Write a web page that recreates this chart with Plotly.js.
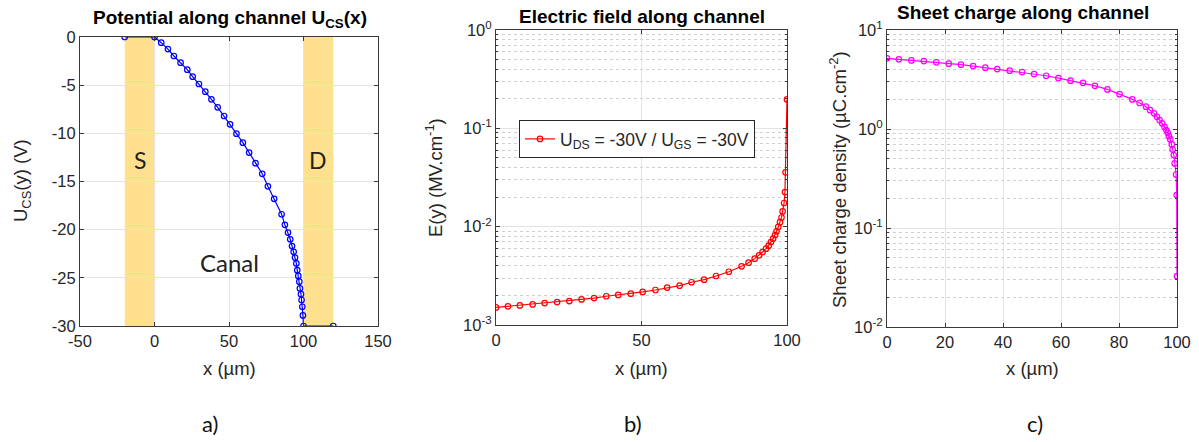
<!DOCTYPE html>
<html>
<head>
<meta charset="utf-8">
<script src="https://cdn.plot.ly/plotly-3.0.1.min.js"></script>
<style>html,body{margin:0;padding:0;background:#fff;}#chart{width:1199px;height:442px;}</style>
</head>
<body>
<div id="chart"></div>
<script>
// ---- Panel a: potential along channel ----
var xa = [-20, 0, 4.5, 9.0, 13.0, 17.5, 22.0, 25.6, 29.8, 34.1, 38.2, 42.4, 46.7, 50.7, 55.0, 59.3, 63.5, 67.8, 72.3, 76.1, 80.3, 85.3, 87.5, 89.6, 91.1, 92.3, 93.4, 94.3, 95.2, 95.8, 96.5, 97.2, 97.6, 98.3, 98.7, 99.2, 99.6, 100, 120];
var ua = [0, 0, -0.59, -1.25, -1.97, -2.67, -3.39, -4.12, -4.88, -5.68, -6.47, -7.3, -8.2, -9.07, -10.04, -10.97, -12.0, -13.1, -14.2, -15.5, -16.8, -18.4, -19.5, -20.3, -21.0, -21.7, -22.3, -22.9, -23.5, -24.2, -24.8, -25.4, -26.1, -26.7, -27.3, -28.0, -28.9, -30, -30];
var sourceRegion = [-20, 0];
var drainRegion = [100, 120];
var regionLabels = ["S", "D", "Canal"];
var regionLabelX = [-10, 110, 50];
var regionLabelY = [-12.8, -12.8, -23.4];
var tickValsAx = [-50, 0, 50, 100, 150];
var tickTextAx = ["-50", "0", "50", "100", "150"];
var tickValsAy = [-30, -25, -20, -15, -10, -5, 0];
var tickTextAy = ["-30", "-25", "-20", "-15", "-10", "-5", "0"];

// ---- Panel b: electric field along channel ----
var xb = [0, 4.1, 8.2, 12.6, 16.7, 21.0, 25.2, 29.4, 33.7, 37.9, 42.0, 46.3, 50.4, 54.8, 58.8, 63.1, 67.2, 71.5, 75.6, 80.0, 84.4, 86.8, 88.9, 90.4, 91.6, 92.8, 93.7, 94.5, 95.2, 95.9, 96.4, 97.0, 97.6, 98.1, 98.5, 99.0, 99.3, 99.5, 100];
var eb = [1.51e-3, 1.55e-3, 1.58e-3, 1.62e-3, 1.67e-3, 1.71e-3, 1.75e-3, 1.82e-3, 1.88e-3, 1.96e-3, 2.02e-3, 2.08e-3, 2.17e-3, 2.27e-3, 2.40e-3, 2.51e-3, 2.72e-3, 2.89e-3, 3.15e-3, 3.48e-3, 3.95e-3, 4.30e-3, 4.73e-3, 5.11e-3, 5.52e-3, 5.97e-3, 6.41e-3, 6.98e-3, 7.55e-3, 8.22e-3, 8.97e-3, 9.93e-3, 1.11e-2, 1.24e-2, 1.43e-2, 1.74e-2, 2.25e-2, 3.57e-2, 0.197];
var legendB = "U<sub>DS</sub> = -30V / U<sub>GS</sub> = -30V";

// ---- Panel c: sheet charge along channel ----
var xc = [0, 4.1, 8.4, 12.7, 17.0, 21.3, 25.5, 29.7, 33.9, 38.0, 42.3, 46.6, 50.7, 54.9, 59.1, 63.3, 67.6, 71.7, 76.0, 80.2, 84.6, 87.1, 89.3, 90.7, 92.1, 93.1, 94.0, 94.9, 95.7, 96.3, 96.8, 97.2, 97.7, 98.2, 98.5, 98.9, 99.2, 99.7, 99.9, 100];
var qc = [5.17, 5.05, 4.93, 4.85, 4.71, 4.57, 4.46, 4.32, 4.16, 4.03, 3.88, 3.76, 3.59, 3.45, 3.27, 3.08, 2.93, 2.73, 2.51, 2.25, 1.99, 1.83, 1.68, 1.55, 1.44, 1.33, 1.23, 1.14, 1.05, 0.975, 0.916, 0.847, 0.784, 0.698, 0.621, 0.545, 0.449, 0.347, 0.215, 0.0326];

// ---- tick labels ----
var tickValsB = [0.001, 0.01, 0.1, 1];
var tickTextB = ["10<sup>-3</sup>", "10<sup>-2</sup>", "10<sup>-1</sup>", "10<sup>0</sup>"];
var tickValsC = [0.01, 0.1, 1, 10];
var tickTextC = ["10<sup>-2</sup>", "10<sup>-1</sup>", "10<sup>0</sup>", "10<sup>1</sup>"];
var captions = ["a)", "b)", "c)"];

var W = 1199, H = 442;
function dx(a, b) { return [a / W, b / W]; }
function dy(top, bot) { return [(H - bot) / H, (H - top) / H]; }
function px(v) { return v / W; }
function py(v) { return (H - v) / H; }

var tickFont = {family: "Liberation Sans, Arial, sans-serif", size: 16.5, color: "#262626"};
var axCol = "#3a3a3a";
var gridCol = "#e3e3e3";

function baseAxis(extra) {
  var a = {
    showline: true, mirror: "ticks", linecolor: axCol, linewidth: 1,
    ticks: "inside", ticklen: 4, tickcolor: axCol,
    showgrid: true, gridcolor: gridCol, gridwidth: 1,
    zeroline: false, tickfont: tickFont, fixedrange: true
  };
  for (var k in extra) a[k] = extra[k];
  return a;
}

var mk = function (c) { return {symbol: "circle-open", size: 5.5, color: c, line: {width: 1.2, color: c}}; };

var traces = [
  {x: xa, y: ua, xaxis: "x", yaxis: "y", mode: "lines+markers", line: {color: "#0000ff", width: 1.2}, marker: mk("#0000ff"), showlegend: false},
  {x: xb, y: eb, xaxis: "x2", yaxis: "y2", mode: "lines+markers", line: {color: "#ff0000", width: 1.2}, marker: mk("#ff0000"), name: legendB, showlegend: true},
  {x: xc, y: qc, xaxis: "x3", yaxis: "y3", mode: "lines+markers", line: {color: "#ff00ff", width: 1.2}, marker: mk("#ff00ff"), showlegend: false}
];

var minorLog = {showgrid: true, griddash: "dot", gridcolor: "#d0d0d0", gridwidth: 1, ticks: "inside", ticklen: 2, tickcolor: axCol, dtick: "D1"};

var layout = {
  width: W, height: H,
  margin: {l: 0, r: 0, t: 0, b: 0},
  paper_bgcolor: "#fff", plot_bgcolor: "#fff",
  font: {family: "Liberation Sans, Arial, sans-serif", color: "#262626"},
  xaxis: baseAxis({domain: dx(80, 378), range: [-50, 150], tickmode: "array", tickvals: tickValsAx, ticktext: tickTextAx, anchor: "y"}),
  yaxis: baseAxis({domain: dy(37, 326), range: [-30, 0], tickmode: "array", tickvals: tickValsAy, ticktext: tickTextAy, anchor: "x"}),
  xaxis2: baseAxis({domain: dx(496, 787), range: [0, 100], dtick: 50, tick0: 0, anchor: "y2"}),
  yaxis2: baseAxis({domain: dy(30, 325), type: "log", range: [-3, 0], tickmode: "array", tickvals: tickValsB, ticktext: tickTextB, anchor: "x2", minor: minorLog}),
  xaxis3: baseAxis({domain: dx(887, 1177), range: [0, 100], dtick: 20, tick0: 0, anchor: "y3"}),
  yaxis3: baseAxis({domain: dy(30, 327), type: "log", range: [-2, 1], tickmode: "array", tickvals: tickValsC, ticktext: tickTextC, anchor: "x3", minor: minorLog}),
  showlegend: true,
  legend: {x: px(519), y: py(120), xanchor: "left", yanchor: "top", bgcolor: "#fff", bordercolor: "#262626", borderwidth: 1,
           font: {family: "Liberation Sans, Arial, sans-serif", size: 17.5, color: "#262626"}},
  shapes: [
    {type: "rect", xref: "x", yref: "y domain", x0: sourceRegion[0], x1: sourceRegion[1], y0: 0, y1: 1, fillcolor: "#ffe08e", line: {width: 0}, layer: "below"},
    {type: "rect", xref: "x", yref: "y domain", x0: drainRegion[0], x1: drainRegion[1], y0: 0, y1: 1, fillcolor: "#ffe08e", line: {width: 0}, layer: "below"}
  ],
  annotations: []
};

function ann(o) { o.showarrow = false; if (!o.xanchor) o.xanchor = "center"; if (!o.yanchor) o.yanchor = "middle"; layout.annotations.push(o); }

// region labels
for (var i = 0; i < regionLabels.length; i++) {
  ann({xref: "x", yref: "y", x: regionLabelX[i], y: regionLabelY[i], text: regionLabels[i],
    font: {family: "Lato, Open Sans, sans-serif", size: i === 2 ? 24 : 23, color: "#222"}});
}

var titleFont = {family: "Liberation Sans, Arial, sans-serif", size: 19, color: "#000"};
ann({xref: "paper", yref: "paper", x: px(230), y: py(19), text: "<b>Potential along channel U<sub>CS</sub>(x)</b>", font: titleFont});
ann({xref: "paper", yref: "paper", x: px(642), y: py(17), text: "<b>Electric field along channel</b>", font: titleFont});
ann({xref: "paper", yref: "paper", x: px(1023), y: py(12), text: "<b>Sheet charge along channel</b>", font: titleFont});

var labFont = {family: "Liberation Sans, Arial, sans-serif", size: 18.5, color: "#262626"};
ann({xref: "paper", yref: "paper", x: px(229), y: py(368), text: "x (µm)", font: labFont});
ann({xref: "paper", yref: "paper", x: px(641), y: py(368), text: "x (µm)", font: labFont});
ann({xref: "paper", yref: "paper", x: px(1032), y: py(368), text: "x (µm)", font: labFont});
ann({xref: "paper", yref: "paper", x: px(22), y: py(181), text: "U<sub>CS</sub>(y) (V)", textangle: -90, font: labFont});
ann({xref: "paper", yref: "paper", x: px(434), y: py(178), text: "E(y) (MV.cm<sup>-1</sup>)", textangle: -90, font: labFont});
ann({xref: "paper", yref: "paper", x: px(838), y: py(180), text: "Sheet charge density (µC.cm<sup>-2</sup>)", textangle: -90, font: labFont});

var capX = [210, 633, 1035];
for (var j = 0; j < captions.length; j++) {
  ann({xref: "paper", yref: "paper", x: px(capX[j]), y: py(423), text: captions[j],
    font: {family: "Lato, Open Sans, sans-serif", size: 22, color: "#111"}});
}

Plotly.newPlot("chart", traces, layout, {staticPlot: true, displayModeBar: false});
</script>
</body>
</html>
